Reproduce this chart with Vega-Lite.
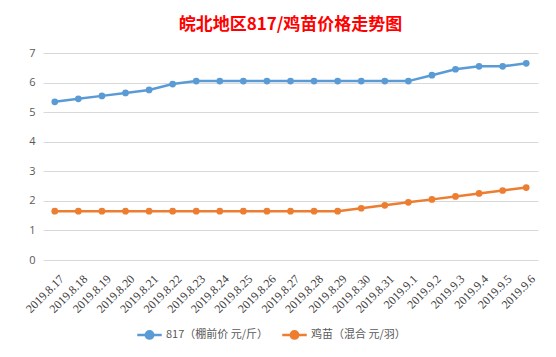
{
  "$schema": "https://vega.github.io/schema/vega-lite/v6.json",
  "autosize": {"type": "none"},
  "width": 495,
  "height": 207,
  "padding": {"left": 43, "top": 53, "right": 18, "bottom": 97},
  "background": "white",
  "title": {
    "text": "皖北地区817/鸡苗价格走势图",
    "color": "#FF0000",
    "font": "Noto Sans CJK SC",
    "fontSize": 17,
    "fontWeight": "bold",
    "anchor": "middle",
    "offset": 13
  },
  "config": {
    "view": {"stroke": null},
    "axis": {"domain": false, "ticks": false, "labelColor": "#595959", "gridColor": "#D9D9D9", "gridWidth": 1}
  },
  "data": {
    "values": [
      {"date": "2019.8.17", "series": "817（棚前价 元/斤）", "value": 5.35},
      {"date": "2019.8.18", "series": "817（棚前价 元/斤）", "value": 5.45},
      {"date": "2019.8.19", "series": "817（棚前价 元/斤）", "value": 5.55},
      {"date": "2019.8.20", "series": "817（棚前价 元/斤）", "value": 5.65},
      {"date": "2019.8.21", "series": "817（棚前价 元/斤）", "value": 5.75},
      {"date": "2019.8.22", "series": "817（棚前价 元/斤）", "value": 5.95},
      {"date": "2019.8.23", "series": "817（棚前价 元/斤）", "value": 6.05},
      {"date": "2019.8.24", "series": "817（棚前价 元/斤）", "value": 6.05},
      {"date": "2019.8.25", "series": "817（棚前价 元/斤）", "value": 6.05},
      {"date": "2019.8.26", "series": "817（棚前价 元/斤）", "value": 6.05},
      {"date": "2019.8.27", "series": "817（棚前价 元/斤）", "value": 6.05},
      {"date": "2019.8.28", "series": "817（棚前价 元/斤）", "value": 6.05},
      {"date": "2019.8.29", "series": "817（棚前价 元/斤）", "value": 6.05},
      {"date": "2019.8.30", "series": "817（棚前价 元/斤）", "value": 6.05},
      {"date": "2019.8.31", "series": "817（棚前价 元/斤）", "value": 6.05},
      {"date": "2019.9.1", "series": "817（棚前价 元/斤）", "value": 6.05},
      {"date": "2019.9.2", "series": "817（棚前价 元/斤）", "value": 6.25},
      {"date": "2019.9.3", "series": "817（棚前价 元/斤）", "value": 6.45},
      {"date": "2019.9.4", "series": "817（棚前价 元/斤）", "value": 6.55},
      {"date": "2019.9.5", "series": "817（棚前价 元/斤）", "value": 6.55},
      {"date": "2019.9.6", "series": "817（棚前价 元/斤）", "value": 6.65},
      {"date": "2019.8.17", "series": "鸡苗（混合 元/羽）", "value": 1.65},
      {"date": "2019.8.18", "series": "鸡苗（混合 元/羽）", "value": 1.65},
      {"date": "2019.8.19", "series": "鸡苗（混合 元/羽）", "value": 1.65},
      {"date": "2019.8.20", "series": "鸡苗（混合 元/羽）", "value": 1.65},
      {"date": "2019.8.21", "series": "鸡苗（混合 元/羽）", "value": 1.65},
      {"date": "2019.8.22", "series": "鸡苗（混合 元/羽）", "value": 1.65},
      {"date": "2019.8.23", "series": "鸡苗（混合 元/羽）", "value": 1.65},
      {"date": "2019.8.24", "series": "鸡苗（混合 元/羽）", "value": 1.65},
      {"date": "2019.8.25", "series": "鸡苗（混合 元/羽）", "value": 1.65},
      {"date": "2019.8.26", "series": "鸡苗（混合 元/羽）", "value": 1.65},
      {"date": "2019.8.27", "series": "鸡苗（混合 元/羽）", "value": 1.65},
      {"date": "2019.8.28", "series": "鸡苗（混合 元/羽）", "value": 1.65},
      {"date": "2019.8.29", "series": "鸡苗（混合 元/羽）", "value": 1.65},
      {"date": "2019.8.30", "series": "鸡苗（混合 元/羽）", "value": 1.75},
      {"date": "2019.8.31", "series": "鸡苗（混合 元/羽）", "value": 1.85},
      {"date": "2019.9.1", "series": "鸡苗（混合 元/羽）", "value": 1.95},
      {"date": "2019.9.2", "series": "鸡苗（混合 元/羽）", "value": 2.05},
      {"date": "2019.9.3", "series": "鸡苗（混合 元/羽）", "value": 2.15},
      {"date": "2019.9.4", "series": "鸡苗（混合 元/羽）", "value": 2.25},
      {"date": "2019.9.5", "series": "鸡苗（混合 元/羽）", "value": 2.35},
      {"date": "2019.9.6", "series": "鸡苗（混合 元/羽）", "value": 2.45}
    ]
  },
  "mark": {"type": "line", "strokeWidth": 2.5, "point": {"filled": true, "size": 45}},
  "encoding": {
    "x": {
      "field": "date", "type": "nominal", "sort": null,
      "scale": {"type": "point", "padding": 0.5},
      "axis": {"title": null, "labelAngle": -45, "labelFont": "Liberation Serif", "labelFontSize": 12, "labelColor": "#404040", "labelPadding": 13, "labelOffset": 3}
    },
    "y": {
      "field": "value", "type": "quantitative",
      "scale": {"domain": [0, 7]},
      "axis": {"title": null, "values": [0,1,2,3,4,5,6,7], "labelFont": "Open Sans", "labelFontSize": 11, "labelPadding": 8}
    },
    "color": {
      "field": "series", "type": "nominal", "sort": null,
      "scale": {"range": ["#5B9BD5", "#ED7D31"]},
      "legend": {
        "title": null, "orient": "none", "direction": "horizontal",
        "legendX": 93, "legendY": 268,
        "labelFont": "Noto Sans CJK SC", "labelFontSize": 11, "labelColor": "#595959",
        "symbolType": "M-1,0H1M0.3,0A0.3,0.3 0 1,1 -0.3,0A0.3,0.3 0 1,1 0.3,0",
        "symbolSize": 600, "symbolStrokeWidth": 2.5, "columnPadding": 8, "labelOffset": 3
      }
    }
  }
}
